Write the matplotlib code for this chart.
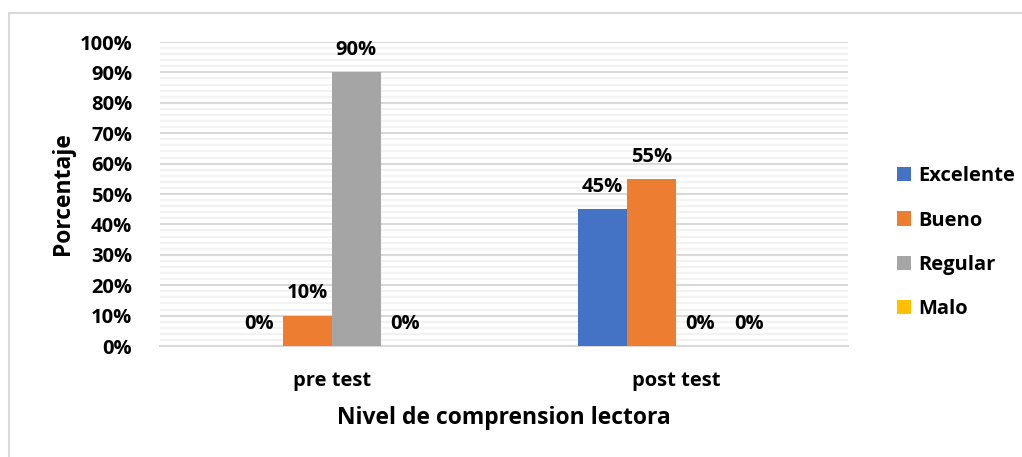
import numpy as np
import matplotlib.pyplot as plt
from matplotlib.patches import Rectangle
from matplotlib.ticker import MultipleLocator, PercentFormatter

groups = ['pre test', 'post test']
series = ['Excelente', 'Bueno', 'Regular', 'Malo']
values = {
    'Excelente': [0, 45],
    'Bueno': [10, 55],
    'Regular': [90, 0],
    'Malo': [0, 0],
}
colors = ['#4472C4', '#ED7D31', '#A5A5A5', '#FFC000']

plt.rcParams['font.family'] = ['Open Sans', 'DejaVu Sans']
plt.rcParams['font.weight'] = 'bold'

fig = plt.figure(figsize=(10.22, 4.57), dpi=100)
fig.patches.append(Rectangle((9 / 1022, -0.1), 1.2, 1 - 13 / 457 + 0.1,
                             transform=fig.transFigure, fill=False,
                             edgecolor='#D9D9D9', linewidth=1.5))
ax = fig.add_axes([160 / 1022, 1 - 346 / 457, 688 / 1022, 304 / 457])

x = np.arange(len(groups))
w = 0.142
for i, (name, c) in enumerate(zip(series, colors)):
    pos = x + (i - 1.5) * w
    bars = ax.bar(pos, values[name], w, color=c, label=name, zorder=3)
    for b, v in zip(bars, values[name]):
        ax.text(b.get_x() + b.get_width() / 2, v + 4, f'{v}%',
                ha='center', va='bottom', fontsize=14.5, fontweight='bold')

ax.set_xlim(-0.5, 1.5)
ax.set_ylim(0, 100)
ax.yaxis.set_major_locator(MultipleLocator(10))
ax.yaxis.set_minor_locator(MultipleLocator(2))
ax.yaxis.set_major_formatter(PercentFormatter(decimals=0))
ax.grid(axis='y', which='major', color='#D9D9D9', linewidth=1.5, zorder=0)
ax.grid(axis='y', which='minor', color='#F2F2F2', linewidth=1.5, zorder=0)
ax.set_xticks(x)
ax.set_xticklabels(groups)
ax.tick_params(axis='both', which='both', length=0, labelsize=14.5)
ax.tick_params(axis='x', pad=18)
ax.tick_params(axis='y', pad=20)
for s in ['top', 'right', 'left']:
    ax.spines[s].set_visible(False)
ax.spines['bottom'].set_color('#D9D9D9')
ax.spines['bottom'].set_linewidth(1.5)

ax.set_ylabel('Porcentaje', fontsize=16.5, fontweight='bold', labelpad=3)
ax.set_xlabel('Nivel de comprension lectora', fontsize=16.5, fontweight='bold',
              labelpad=11)

ax.legend(loc='center left', bbox_to_anchor=(1.045, 0.34), frameon=False,
          fontsize=14.5, handlelength=0.7, handleheight=0.7,
          handletextpad=0.35, labelspacing=1.2)

fig.savefig('out.png', dpi=100)
